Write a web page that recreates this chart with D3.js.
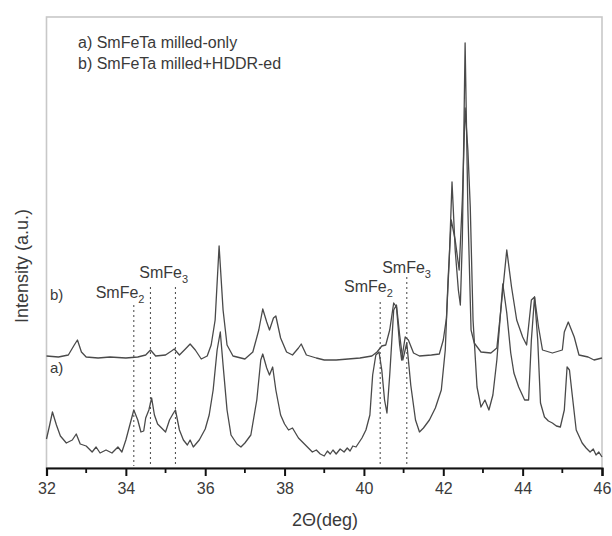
<!DOCTYPE html>
<html><head><meta charset="utf-8">
<script src="https://cdn.jsdelivr.net/npm/d3@7"></script>
<style>body{margin:0;background:#fff}svg{display:block}</style>
</head><body><svg id="chart" width="612" height="536"></svg>
<script>
// ---- data ----
const xTicks = [32, 34, 36, 38, 40, 42, 44, 46];
const xTickLabels = ["32", "34", "36", "38", "40", "42", "44", "46"];
const xMinorTicks = [33, 35, 37, 39, 41, 43, 45];

const thetaA = [32.00,32.08,32.15,32.25,32.35,32.50,32.65,32.75,32.85,33.00,33.15,33.25,33.35,33.50,33.65,33.80,33.90,34.00,34.10,34.20,34.30,34.38,34.45,34.50,34.58,34.65,34.72,34.80,34.90,35.00,35.10,35.20,35.25,35.35,35.45,35.55,35.62,35.70,35.85,36.00,36.10,36.20,36.30,36.38,36.45,36.55,36.65,36.80,36.90,37.00,37.15,37.30,37.40,37.45,37.55,37.62,37.70,37.78,37.90,38.00,38.10,38.20,38.35,38.50,38.60,38.70,38.80,38.90,39.00,39.08,39.15,39.22,39.30,39.40,39.50,39.58,39.65,39.72,39.80,39.95,40.05,40.15,40.22,40.30,40.38,40.45,40.52,40.58,40.65,40.75,40.82,40.90,40.98,41.08,41.18,41.30,41.40,41.50,41.65,41.80,41.95,42.05,42.12,42.20,42.30,42.40,42.48,42.55,42.62,42.68,42.75,42.85,42.95,43.05,43.15,43.25,43.35,43.50,43.60,43.70,43.78,43.90,44.05,44.15,44.22,44.30,44.38,44.45,44.55,44.65,44.75,44.85,44.95,45.05,45.12,45.18,45.25,45.35,45.50,45.60,45.70,45.78,45.85,45.92,46.00];
const intensityA = [29,43,56,43,32,25,28,34,24,22,16,21,15,18,15,21,16,28,43,58,48,36,37,50,58,70,53,44,40,36,48,55,58,38,28,23,28,21,28,39,53,78,118,136,103,58,33,24,21,25,33,68,108,114,100,93,101,78,53,44,38,40,30,24,20,16,18,14,12,17,14,18,14,19,16,20,17,22,21,30,38,53,93,113,116,98,68,55,93,158,163,133,108,125,83,48,36,40,48,60,78,118,188,248,228,198,268,360,318,261,148,81,61,68,58,73,108,184,155,115,95,81,68,68,128,171,128,65,51,47,45,42,41,58,101,98,73,38,25,20,16,19,13,16,11];

const thetaB = [32.00,32.30,32.55,32.70,32.78,32.88,33.00,33.30,33.60,34.00,34.30,34.50,34.62,34.75,35.00,35.15,35.22,35.35,35.50,35.62,35.75,35.90,36.05,36.15,36.25,36.35,36.45,36.55,36.70,37.00,37.20,37.35,37.45,37.55,37.62,37.72,37.78,37.90,38.05,38.20,38.35,38.42,38.55,38.80,39.00,39.30,39.60,39.90,40.20,40.33,40.45,40.55,40.65,40.75,40.82,40.90,40.95,41.04,41.12,41.25,41.40,41.70,41.90,42.00,42.08,42.15,42.22,42.30,42.38,42.43,42.48,42.55,42.62,42.70,42.78,42.95,43.20,43.35,43.45,43.60,43.72,43.85,44.00,44.10,44.22,44.30,44.40,44.50,44.75,45.00,45.05,45.15,45.30,45.42,45.65,45.80,46.00];
const intensityB = [112,111,113,123,128,116,111,110,111,110,111,113,118,112,113,117,119,113,119,124,118,109,112,123,148,222,158,123,112,109,116,138,159,146,138,150,152,130,116,113,120,124,113,110,108,108,109,110,112,116,122,123,138,165,161,123,108,131,128,115,112,113,114,128,150,208,286,218,178,163,228,425,258,138,125,116,115,120,158,218,181,148,131,123,168,171,141,118,115,118,136,146,131,113,111,108,110];

const legendLines = ["a) SmFeTa milled-only", "b) SmFeTa milled+HDDR-ed"];
const curveTags = ["a)", "b)"];
const curveTagLevels = [101, 174];
const markerTheta = [34.20, 34.62, 35.25, 40.41, 41.08];
const markerTop = [163, 181, 181, 166, 191];
const phaseBase = ["SmFe", "SmFe", "SmFe", "SmFe"];
const phaseSub = ["2", "3", "2", "3"];
const phaseTheta = [33.24, 34.34, 39.50, 40.46];
const phaseLevel = [176, 196, 182, 201];
const xTitle = "2\u0398(deg)";
const yTitle = "Intensity (a.u.)";

// ---- layout ----
const svg = d3.select("#chart");
const L = 46.5, R = 602, T = 17, B = 468;
const x = d3.scaleLinear().domain([32, 46]).range([L, R]);
const y = d3.scaleLinear().domain([0, 451]).range([B, T]);
const font = "'Liberation Sans', Arial, Helvetica, sans-serif";
const ink = "#3a3a3a";

// frame
svg.append("rect").attr("x", L).attr("y", T).attr("width", R - L).attr("height", B - T)
  .attr("fill", "none").attr("stroke", "#c8c8c8").attr("stroke-width", 1.6);

// dotted markers
svg.append("g").selectAll("line").data(markerTheta).join("line")
  .attr("x1", d => x(d)).attr("x2", d => x(d))
  .attr("y1", (d, i) => y(markerTop[i])).attr("y2", B - 2)
  .attr("stroke", "#555").attr("stroke-width", 1.1).attr("stroke-dasharray", "2,3");

// curves
const line = d3.line().x(d => x(d[0])).y(d => y(d[1]));
const dataA = thetaA.map((t, i) => [t, intensityA[i]]);
const dataB = thetaB.map((t, i) => [t, intensityB[i]]);
svg.append("path").datum(dataA).attr("d", line).attr("fill", "none")
  .attr("stroke", "#4a4a4a").attr("stroke-width", 1.3).attr("stroke-linejoin", "round");
svg.append("path").datum(dataB).attr("d", line).attr("fill", "none")
  .attr("stroke", "#4a4a4a").attr("stroke-width", 1.3).attr("stroke-linejoin", "round");

// x axis
const axis = d3.axisBottom(x).tickValues(xTicks).tickFormat((d, i) => xTickLabels[i])
  .tickSize(8).tickPadding(7);
const gx = svg.append("g").attr("transform", `translate(0,${B})`).call(axis);
gx.select(".domain").attr("stroke", "#111").attr("stroke-width", 2.2);
gx.selectAll(".tick line").attr("stroke", "#111").attr("stroke-width", 2);
gx.selectAll(".tick text").attr("font-family", font).attr("font-size", 16).attr("fill", ink);
svg.append("g").selectAll("line").data(xMinorTicks).join("line")
  .attr("x1", d => x(d)).attr("x2", d => x(d)).attr("y1", B).attr("y2", B + 5)
  .attr("stroke", "#111").attr("stroke-width", 1.8);

// titles
svg.append("text").attr("x", 325).attr("y", 526).attr("text-anchor", "middle")
  .attr("font-family", font).attr("font-size", 18).attr("fill", ink).text(xTitle);
svg.append("text").attr("transform", "translate(28,266) rotate(-90)").attr("text-anchor", "middle")
  .attr("font-family", font).attr("font-size", 18).attr("fill", ink).text(yTitle);

// legend
svg.append("g").selectAll("text").data(legendLines).join("text")
  .attr("x", 78).attr("y", (d, i) => 48 + i * 21)
  .attr("font-family", font).attr("font-size", 16).attr("fill", ink).text(d => d);

// curve tags
svg.append("g").selectAll("text").data(curveTags).join("text")
  .attr("x", 50).attr("y", (d, i) => y(curveTagLevels[i]) + 6)
  .attr("font-family", font).attr("font-size", 15).attr("fill", ink).text(d => d);

// phase labels
const pl = svg.append("g").selectAll("text").data(phaseBase).join("text")
  .attr("x", (d, i) => x(phaseTheta[i])).attr("y", (d, i) => y(phaseLevel[i]) + 6)
  .attr("font-family", font).attr("font-size", 16).attr("fill", ink);
pl.append("tspan").text(d => d);
pl.append("tspan").attr("dy", 5).attr("font-size", 11).text((d, i) => phaseSub[i]);
</script></body></html>
